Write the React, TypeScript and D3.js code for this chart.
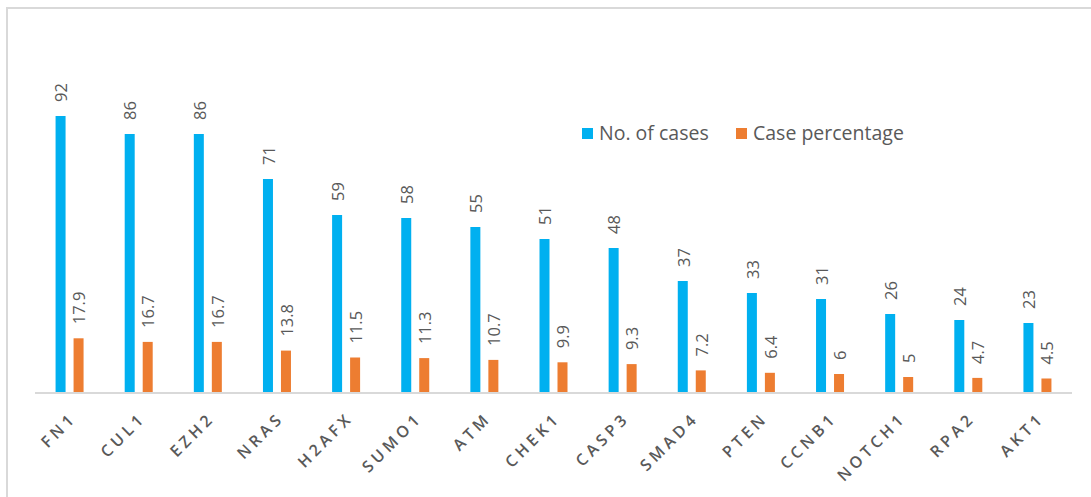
import React from "react";
import * as d3 from "d3";

const categories = ["FN1", "CUL1", "EZH2", "NRAS", "H2AFX", "SUMO1", "ATM", "CHEK1", "CASP3", "SMAD4", "PTEN", "CCNB1", "NOTCH1", "RPA2", "AKT1"];
const cases = [92, 86, 86, 71, 59, 58, 55, 51, 48, 37, 33, 31, 26, 24, 23];
const percentage = [17.9, 16.7, 16.7, 13.8, 11.5, 11.3, 10.7, 9.9, 9.3, 7.2, 6.4, 6, 5, 4.7, 4.5];
const seriesNames = ["No. of cases", "Case percentage"];
const colors = ["#00B0F0", "#ED7D31"];

const W = 1091;
const H = 497;
const left = 35;
const right = 1072;
const baseY = 392;

export default function App() {
  const x = d3.scaleBand<string>().domain(categories).range([left, right]).paddingInner(0).paddingOuter(0);
  const y = d3.scaleLinear().domain([0, 100]).range([baseY, baseY - 300]);
  const barW = 10;
  const gap = 8;
  const font = "'Open Sans', 'Noto Sans', sans-serif";
  const textColor = "#595959";

  return (
    <svg width={W} height={H} style={{ position: "absolute", left: 0, top: 0, background: "#fff" }} fontFamily={font}>
      <rect x={7} y={8} width={W + 20} height={H + 20} fill="#fff" stroke="#d9d9d9" strokeWidth={2} />
      {categories.map((c, i) => {
        const center = (x(c) as number) + x.bandwidth() / 2;
        const bx = center - gap / 2 - barW;
        const ox = center + gap / 2;
        const by = y(cases[i]);
        const oy = y(percentage[i]);
        return (
          <g key={c}>
            <rect x={bx} y={by} width={barW} height={baseY - by} fill={colors[0]} />
            <rect x={ox} y={oy} width={barW} height={baseY - oy} fill={colors[1]} />
            <text
              transform={`translate(${bx + barW / 2 + 1},${by - 14}) rotate(-90)`}
              dy="0.35em"
              fontSize={16.5}
              fill={textColor}
            >
              {cases[i]}
            </text>
            <text
              transform={`translate(${ox + barW / 2 + 1},${oy - 14}) rotate(-90)`}
              dy="0.35em"
              fontSize={16.5}
              fill={textColor}
            >
              {percentage[i]}
            </text>
            <text
              transform={`translate(${center + 8},${baseY + 27}) rotate(-45)`}
              textAnchor="end"
              fontSize={16}
              fontWeight={600}
              letterSpacing={4}
              fill={textColor}
            >
              {c}
            </text>
          </g>
        );
      })}
      <line x1={left} x2={right} y1={baseY + 1} y2={baseY + 1} stroke="#d9d9d9" strokeWidth={2} />
      <g>
        <rect x={582} y={128} width={11} height={11} fill={colors[0]} />
        <text x={599} y={140} fontSize={19.5} fill={textColor}>{seriesNames[0]}</text>
        <rect x={736} y={128} width={11} height={11} fill={colors[1]} />
        <text x={753} y={140} fontSize={19.5} fill={textColor}>{seriesNames[1]}</text>
      </g>
    </svg>
  );
}
